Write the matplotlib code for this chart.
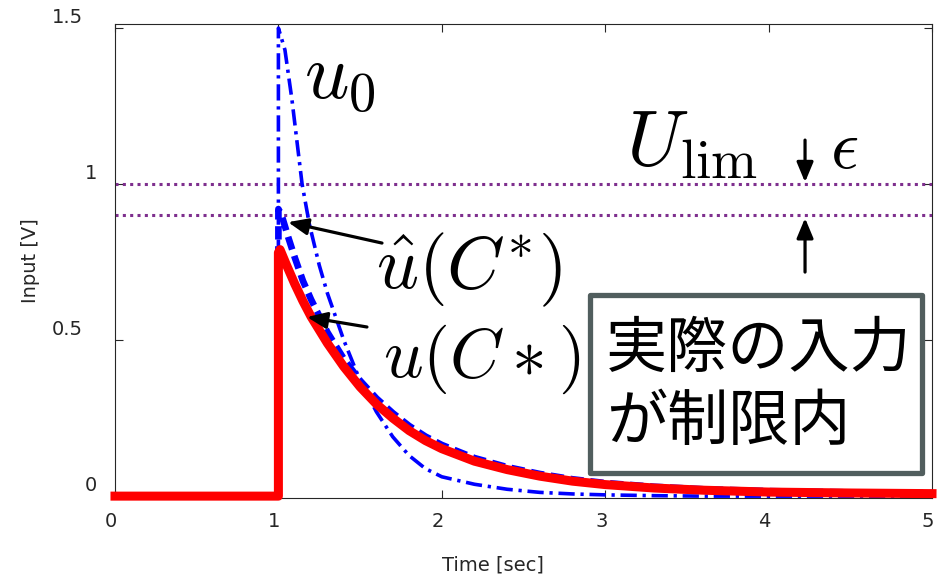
import matplotlib
matplotlib.use("Agg")
import matplotlib.pyplot as plt
from matplotlib.patches import FancyBboxPatch
from matplotlib.transforms import ScaledTranslation

# unconstrained input u0
t_u0 = [0, 1.0, 1.0, 1.04, 1.083, 1.145, 1.19, 1.25, 1.3, 1.4, 1.5, 1.6,
        1.7, 1.8, 1.9, 2.0, 2.2, 2.4, 2.6, 2.8, 3.0, 3.3, 3.6, 5.0]
u0 = [0, 0, 1.5, 1.43, 1.27, 1.0, 0.87, 0.74, 0.65, 0.5, 0.37, 0.27,
      0.19, 0.13, 0.088, 0.062, 0.038, 0.022, 0.012, 0.007, 0.004, 0.0015,
      0, 0]

# predicted input u_hat(C*)
t_uhat = [0, 1.0, 1.0, 1.02, 1.06, 1.1, 1.15, 1.2, 1.3, 1.4, 1.5, 1.6, 1.7,
          1.8, 1.9, 2.0, 2.2, 2.4, 2.6, 2.8, 3.0, 3.3, 3.6, 4.0, 4.5, 5.0]
uhat = [0, 0, 0.92, 0.9, 0.83, 0.765, 0.69, 0.63, 0.525, 0.44, 0.37, 0.313,
        0.266, 0.225, 0.191, 0.164, 0.122, 0.093, 0.071, 0.054, 0.042, 0.03,
        0.022, 0.016, 0.012, 0.01]

# actual input u(C*)
t_u = [0, 1.0, 1.0, 1.01, 1.05, 1.1, 1.15, 1.2, 1.3, 1.4, 1.5, 1.6, 1.7,
       1.8, 1.9, 2.0, 2.2, 2.4, 2.6, 2.8, 3.0, 3.3, 3.6, 4.0, 4.5, 5.0]
u_act = [0, 0, 0.78, 0.79, 0.74, 0.68, 0.625, 0.575, 0.49, 0.415, 0.35,
         0.295, 0.25, 0.21, 0.178, 0.152, 0.112, 0.085, 0.064, 0.048, 0.037,
         0.026, 0.019, 0.013, 0.01, 0.008]

u_lim = 1.0
eps = 0.1

xticks = [0, 1, 2, 3, 4, 5]
yticks = [0, 0.5, 1, 1.5]
ytick_labels = ["0", "0.5", "1", "1.5"]

TXT = "#262626"


def draw(ax):
    """Draw the input signals, the limit band and the annotations."""
    ax.plot(t_u0, u0, color=(0, 0, 1), lw=2.6,
            linestyle=(0, (4.5, 1.6, 0.9, 1.6)), clip_on=False, zorder=3)
    ax.plot(t_uhat, uhat, color=(0, 0, 1), lw=4.8,
            linestyle=(0, (2.0, 1.0)), clip_on=False, zorder=3)
    ax.plot(t_u, u_act, color=(1, 0, 0), lw=6.5, clip_on=False, zorder=4,
            solid_joinstyle="round")

    for level in (u_lim, u_lim - eps):
        ax.axhline(level, color="#7E2F8E", lw=2.2,
                   linestyle=(0, (1, 1.4)), zorder=2)

    arrow = dict(arrowstyle="-|>,head_length=0.6,head_width=0.25",
                 lw=2.3, color="k", mutation_scale=20,
                 shrinkA=0, shrinkB=0)
    ax.annotate("", xy=(1.059, 0.878), xytext=(1.634, 0.811),
                arrowprops=arrow, zorder=5)
    ax.annotate("", xy=(1.175, 0.574), xytext=(1.542, 0.542),
                arrowprops=arrow, zorder=5)
    ax.annotate("", xy=(4.223, u_lim + 0.006), xytext=(4.223, 1.141),
                arrowprops=arrow, zorder=5)
    ax.annotate("", xy=(4.223, u_lim - eps - 0.009), xytext=(4.223, 0.718),
                arrowprops=arrow, zorder=5)

    math = dict(color="k", ha="left", va="baseline", zorder=6)
    ax.text(1.155, 1.276, r"$u_0$", fontsize=56, **math)
    ax.text(1.60, 0.667, r"$\hat{u}(C^{*})$", fontsize=53, **math)
    ax.text(1.64, 0.381, r"$u(C*)$", fontsize=50, **math)
    ax.text(3.13, 1.061, r"$U_{\mathrm{lim}}$", fontsize=57, **math)
    ax.text(4.376, 1.051, r"$\epsilon$", fontsize=50, **math)

    box = FancyBboxPatch((2.910, 0.075), 4.936 - 2.910, 0.643 - 0.075,
                         boxstyle="square,pad=0", fc="white", ec="#515e5e",
                         lw=3.8, joinstyle="round", zorder=7)
    ax.add_patch(box)
    ax.text(3.005, 0.352, "実際の入力\nが制限内", fontsize=44,
            family=["Noto Sans CJK JP", "DejaVu Sans"], color="k",
            ha="left", va="center", linespacing=1.23, zorder=8)


def style_axes(fig, ax):
    """MATLAB-like axes: inward ticks on all sides, offset tick labels."""
    ax.set_xlim(0, 5)
    ax.set_ylim(-0.006, 1.513)
    ax.set_xticks(xticks)
    ax.set_xticklabels([str(x) for x in xticks])
    ax.set_yticks(yticks)
    ax.set_yticklabels(ytick_labels)
    for side in ax.spines.values():
        side.set_color(TXT)
        side.set_linewidth(0.8)
    ax.tick_params(direction="in", length=6, width=0.8, colors=TXT,
                   top=True, right=True, labelsize=14)
    ax.tick_params(axis="x", pad=10)
    ax.tick_params(axis="y", pad=13)

    for label in ax.get_xticklabels():
        label.set_transform(label.get_transform()
                            + ScaledTranslation(-0.04, 0, fig.dpi_scale_trans))
    for label in ax.get_yticklabels():
        dx = -0.14 if "." in label.get_text() else 0.0
        label.set_transform(label.get_transform()
                            + ScaledTranslation(dx, 0.125,
                                                fig.dpi_scale_trans))

    fig.text(493 / 946, 1 - 565 / 579, "Time [sec]", fontsize=14,
             color=TXT, ha="center", va="center")
    fig.text(30 / 946, 1 - 261 / 579, "Input [V]", fontsize=14,
             color=TXT, ha="center", va="center", rotation=90)


def main():
    plt.rcParams["mathtext.fontset"] = "cm"
    plt.rcParams["font.family"] = ["DejaVu Sans", "Noto Sans CJK JP"]

    fig = plt.figure(figsize=(9.46, 5.79), dpi=100)
    ax = fig.add_axes([115 / 946, 1 - 498 / 579, 817 / 946, 474 / 579])
    draw(ax)
    style_axes(fig, ax)
    fig.savefig("out.png", dpi=100)


if __name__ == "__main__":
    main()
